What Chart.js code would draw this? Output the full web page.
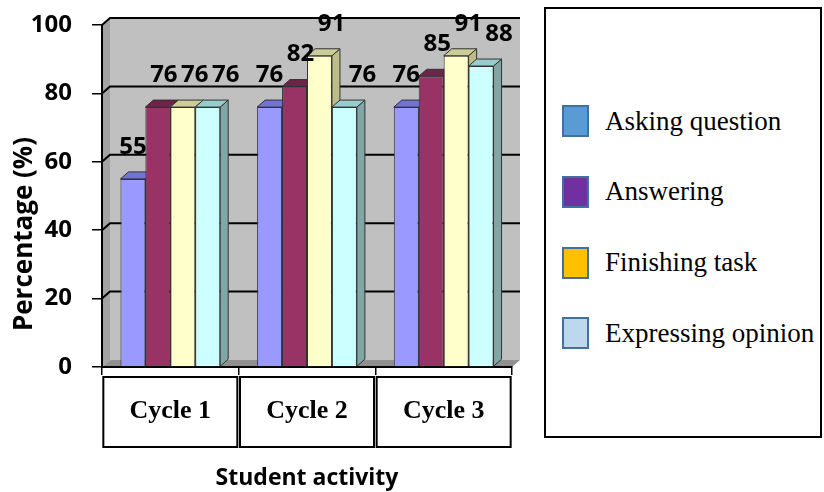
<!DOCTYPE html>
<html>
<head>
<meta charset="utf-8">
<script src="https://cdn.jsdelivr.net/npm/chart.js@4.4.1/dist/chart.umd.min.js"></script>
<style>
  body { margin: 0; background: #fff; }
  #wrap { position: relative; width: 824px; height: 492px; }
  #chart { position: absolute; left: 0; top: 0; }
  #legend {
    position: absolute; left: 544px; top: 7px; width: 274px; height: 427px;
    border: 2px solid #000; background: #fff;
    font-family: "Liberation Serif", "Times New Roman", serif; font-size: 27px; color: #000;
  }
  .item { position: absolute; left: 16px; height: 40px; display: flex; align-items: center; white-space: nowrap; }
  .box { box-sizing: border-box; width: 27px; height: 32px; border: 2px solid #41719c; margin-right: 16px; }
</style>
</head>
<body>
<div id="wrap">
  <canvas id="chart" width="540" height="492"></canvas>
  <div id="legend"></div>
</div>
<script>
// datos
const categories = ["Cycle 1", "Cycle 2", "Cycle 3"];
const seriesNames = ["Asking question", "Answering", "Finishing task", "Expressing opinion"];
const askingQuestion = [55, 76, 76];
const answering = [76, 82, 85];
const finishingTask = [76, 91, 91];
const expressingOpinion = [76, 76, 88];
const yTicks = [0, 20, 40, 60, 80, 100];

// colores
const barFront = ["#9999ff", "#993366", "#ffffcc", "#ccffff"];
const barTop = ["#7373d6", "#6e2448", "#cccc99", "#99cccc"];
const barSide = ["#5f5fb5", "#5e1f3e", "#bdbd8c", "#80a6a6"];
const legendFill = ["#5b9bd5", "#7030a0", "#ffc000", "#bdd7ee"];

const depthX = 8;
const depthY = 7;

function poly(ctx, pts, fill, stroke) {
  ctx.beginPath();
  ctx.moveTo(pts[0][0], pts[0][1]);
  for (let i = 1; i < pts.length; i++) ctx.lineTo(pts[i][0], pts[i][1]);
  ctx.closePath();
  ctx.fillStyle = fill;
  ctx.fill();
  if (stroke) {
    ctx.strokeStyle = stroke;
    ctx.lineWidth = 1;
    ctx.stroke();
  }
}

// paredes grises, piso y lineas de la cuadricula en 3D
const walls3d = {
  id: "walls3d",
  beforeDraw(chart) {
    const { ctx, chartArea: a } = chart;
    ctx.save();
    ctx.fillStyle = "#c0c0c0";
    ctx.fillRect(a.left + depthX, a.top - depthY, a.right - a.left, a.bottom - a.top);
    poly(ctx, [[a.left, a.top], [a.left + depthX, a.top - depthY], [a.left + depthX, a.bottom - depthY], [a.left, a.bottom]], "#a3a3a3");
    poly(ctx, [[a.left, a.bottom], [a.left + depthX, a.bottom - depthY], [a.right + depthX, a.bottom - depthY], [a.right, a.bottom]], "#909090");
    ctx.restore();
  },
  beforeDatasetsDraw(chart) {
    const { ctx, chartArea: a } = chart;
    const yScale = chart.scales.y;
    ctx.save();
    ctx.strokeStyle = "#000";
    ctx.lineWidth = 2;
    yScale.ticks.forEach((t) => {
      if (t.value === yTicks[0]) return;
      const py = yScale.getPixelForValue(t.value);
      ctx.beginPath();
      ctx.moveTo(a.left, py);
      ctx.lineTo(a.left + depthX, py - depthY);
      ctx.lineTo(a.right + depthX, py - depthY);
      ctx.stroke();
    });
    // caras superior y lateral de cada barra
    categories.forEach((_, j) => {
      chart.data.datasets.forEach((ds, i) => {
        const bar = chart.getDatasetMeta(i).data[j];
        const { x, y, width, base } = bar.getProps(["x", "y", "width", "base"], true);
        const l = x - width / 2;
        const r = x + width / 2;
        poly(ctx, [[r, y], [r + depthX, y - depthY], [r + depthX, base - depthY], [r, base]], barSide[i], "#333");
        poly(ctx, [[l, y], [l + depthX, y - depthY], [r + depthX, y - depthY], [r, y]], barTop[i], "#333");
      });
    });
    ctx.restore();
  },
};

// valores encima de las barras
const valueLabels = {
  id: "valueLabels",
  afterDatasetsDraw(chart) {
    const { ctx } = chart;
    ctx.save();
    ctx.font = "bold 24px 'Open Sans'";
    ctx.fillStyle = "#000";
    ctx.textAlign = "center";
    ctx.textBaseline = "middle";
    chart.data.datasets.forEach((ds, i) => {
      chart.getDatasetMeta(i).data.forEach((bar, j) => {
        ctx.fillText(ds.data[j], bar.x + i * 6, bar.y - 32);
      });
    });
    ctx.restore();
  },
};

// cajas de las categorias y titulo del eje Y
const frames = {
  id: "frames",
  afterDraw(chart) {
    const { ctx } = chart;
    const xScale = chart.scales.x;
    ctx.save();
    ctx.strokeStyle = "#000";
    ctx.lineWidth = 2;
    categories.forEach((_, i) => {
      const cx = xScale.getPixelForTick(i);
      ctx.strokeRect(cx - 67, 377, 134, 70);
    });
    ctx.translate(25, 234);
    ctx.rotate(-Math.PI / 2);
    ctx.font = "bold 26px 'Open Sans'";
    ctx.fillStyle = "#000";
    ctx.textAlign = "center";
    ctx.textBaseline = "middle";
    ctx.fillText("Percentage (%)", 0, 0);
    ctx.restore();
  },
};

const seriesData = [askingQuestion, answering, finishingTask, expressingOpinion];

const chart = new Chart(document.getElementById("chart"), {
  type: "bar",
  data: {
    labels: categories,
    datasets: seriesNames.map((name, i) => ({
      label: name,
      data: seriesData[i],
      backgroundColor: barFront[i],
      borderColor: "#333",
      borderWidth: 1,
      categoryPercentage: 0.73,
      barPercentage: 1.0,
    })),
  },
  options: {
    responsive: false,
    animation: false,
    layout: { padding: { left: 0, right: 28, top: 25, bottom: 0 } },
    plugins: {
      legend: { display: false },
      tooltip: { enabled: false },
    },
    scales: {
      x: {
        afterFit: (s) => { s.height = 125; },
        grid: { display: true, drawOnChartArea: false, tickLength: 8, color: "#000", lineWidth: 1.5 },
        border: { display: true, color: "#000", width: 2 },
        ticks: {
          padding: 21,
          color: "#000",
          font: { family: "'Liberation Serif'", size: 26, weight: "bold" },
        },
        title: {
          display: true,
          text: "Student activity",
          color: "#000",
          padding: { top: 0, bottom: 0 },
          font: { family: "'Open Sans'", size: 23, weight: "bold" },
        },
      },
      y: {
        min: yTicks[0],
        max: yTicks[yTicks.length - 1],
        afterFit: (s) => {
          s.width = 102;
          s.paddingTop = 0;
          s.paddingBottom = 0;
        },
        grid: { display: true, drawOnChartArea: false, tickLength: 10, color: "#000", lineWidth: 1.5 },
        border: { display: true, color: "#000", width: 2 },
        ticks: {
          stepSize: yTicks[1] - yTicks[0],
          padding: 20,
          color: "#000",
          font: { family: "'Open Sans'", size: 24, weight: "bold" },
        },
      },
    },
  },
  plugins: [walls3d, valueLabels, frames],
});

// leyenda en HTML
const legendEl = document.getElementById("legend");
chart.data.datasets.forEach((ds, i) => {
  const item = document.createElement("div");
  item.className = "item";
  item.style.top = (92 + i * 70.8) + "px";
  const box = document.createElement("span");
  box.className = "box";
  box.style.background = legendFill[i];
  const text = document.createElement("span");
  text.textContent = ds.label;
  item.appendChild(box);
  item.appendChild(text);
  legendEl.appendChild(item);
});
</script>
</body>
</html>
